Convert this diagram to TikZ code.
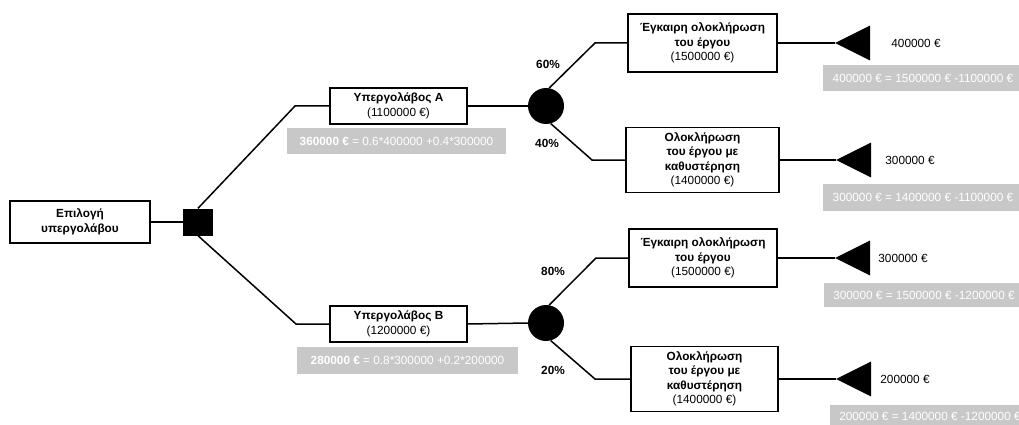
\documentclass[tikz,border=0pt]{standalone}
\usepackage{fontspec}
\setmainfont{Liberation Sans}
\definecolor{calcgray}{RGB}{200,200,200}
\begin{document}
\begin{tikzpicture}[x=1pt,y=-1pt,
  every node/.style={font=\fontsize{11.8}{14.5}\selectfont, inner sep=0pt},
  box/.style={draw, line width=1.5pt, fill=white, align=center},
  calc/.style={fill=calcgray, text=white, minimum height=#1},
  conn/.style={line width=1.5pt},
  pct/.style={font=\fontsize{11.8}{14}\selectfont\bfseries},
  chance/.style={circle, fill=black, minimum size=36pt},
  decision/.style={rectangle, fill=black, minimum width=30pt, minimum height=27pt}
]
\useasboundingbox (0,0) rectangle (1019,425);

% decision node and the two subcontractors
\node[box, minimum width=140pt, minimum height=42pt] (root) at (80,222)
  {\bfseries Επιλογή\\\bfseries υπεργολάβου};
\node[decision] (sq) at (198,222) {};
\node[box, minimum width=137pt, minimum height=36pt] (A) at (398.5,106)
  {\bfseries Υπεργολάβος Α\\(1100000 €)};
\node[box, minimum width=137pt, minimum height=36pt] (B) at (398.5,324)
  {\bfseries Υπεργολάβος Β\\(1200000 €)};
\node[calc=26pt, minimum width=219pt] (gA) at (396.5,141)
  {\textbf{360000 €} = 0.6*400000 +0.4*300000};
\node[calc=27pt, minimum width=221pt] (gB) at (407.5,360)
  {\textbf{280000 €} = 0.8*300000 +0.2*200000};

% chance nodes
\node[chance] (cA) at (546,106) {};
\node[chance] (cB) at (546,323) {};

% outcomes
\node[box, minimum width=149pt, minimum height=58pt] (A1) at (702.5,43)
  {\bfseries Έγκαιρη ολοκλήρωση\\\bfseries του έργου\\(1500000 €)};
\node[box, minimum width=153pt, minimum height=65pt] (A2) at (702.5,160)
  {\bfseries Ολοκλήρωση\\\bfseries του έργου με\\\bfseries καθυστέρηση\\(1400000 €)};
\node[box, minimum width=148pt, minimum height=58pt] (B1) at (703,258)
  {\bfseries Έγκαιρη ολοκλήρωση\\\bfseries του έργου\\(1500000 €)};
\node[box, minimum width=147pt, minimum height=65pt] (B2) at (704.5,379)
  {\bfseries Ολοκλήρωση\\\bfseries του έργου με\\\bfseries καθυστέρηση\\(1400000 €)};

% probabilities
\node[pct] (p60) at (548,64) {60\%};
\node[pct] (p40) at (547,143) {40\%};
\node[pct] (p80) at (553,271) {80\%};
\node[pct] (p20) at (553,370) {20\%};

% end points
\coordinate (tA1) at (835,43);
\coordinate (tA2) at (836,160);
\coordinate (tB1) at (835,258);
\coordinate (tB2) at (836,379);
\foreach \t in {tA1,tA2,tB1,tB2}
  \fill (\t) -- ++(35,-17.5) -- ++(0,35) -- cycle;

\node (vA1) at (916,43) {400000 €};
\node (vA2) at (910,160) {300000 €};
\node (vB1) at (903,258) {300000 €};
\node (vB2) at (905,379) {200000 €};

\node[calc=26pt, minimum width=200pt] (gA1) at (923,78) {400000 € = 1500000 € -1100000 €};
\node[calc=27pt, minimum width=200pt] (gA2) at (923,197.5) {300000 € = 1400000 € -1100000 €};
\node[calc=24pt, minimum width=200pt] (gB1) at (924,295) {300000 € = 1500000 € -1200000 €};
\node[calc=22pt, minimum width=200pt] (gB2) at (930,416) {200000 € = 1400000 € -1200000 €};

% bend points of the branches
\coordinate (kA) at (295,106);
\coordinate (kB) at (296,324);
\coordinate (kA1) at (595,43);
\coordinate (kA2) at (592,160);
\coordinate (kB1) at (596,258);
\coordinate (kB2) at (595,379);

% branches
\begin{scope}[on background layer/.try]
\draw[conn] (root.east) -- (sq.west);
\draw[conn] (sq.north) -- (kA) -- (A.west);
\draw[conn] (sq.south) -- (kB) -- (B.west);
\draw[conn] (A.east) -- (cA.west);
\draw[conn] (B.east) -- (cB.west);
\draw[conn] (cA.80) -- (kA1) -- (A1.west);
\draw[conn] (cA.-75) -- (kA2) -- (A2.west);
\draw[conn] (cB.80) -- (kB1) -- (B1.west);
\draw[conn] (cB.-75) -- (kB2) -- (B2.west);
\draw[conn] (A1.east) -- (tA1);
\draw[conn] (A2.east) -- (tA2);
\draw[conn] (B1.east) -- (tB1);
\draw[conn] (B2.east) -- (tB2);
\end{scope}
\end{tikzpicture}
\end{document}
